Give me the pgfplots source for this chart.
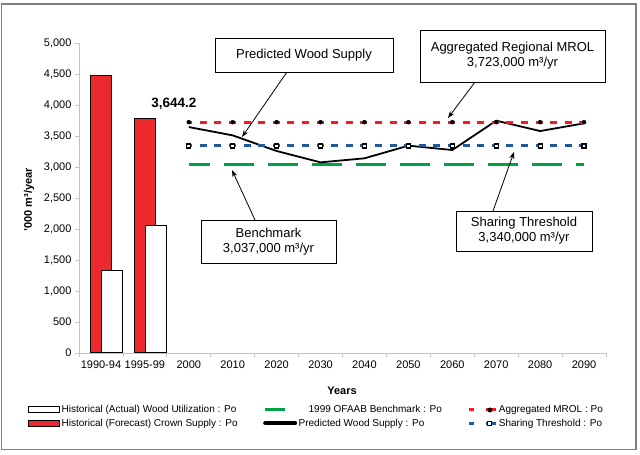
\documentclass[border=0pt]{standalone}
\usepackage{pgfplots}
\pgfplotsset{compat=1.18}
\usepackage{fontspec}
\setmainfont{Liberation Sans}
\usetikzlibrary{arrows.meta}
\definecolor{barred}{RGB}{237,41,46}
\definecolor{mrolred}{RGB}{250,25,35}
\definecolor{shblue}{RGB}{31,91,153}
\definecolor{bmgreen}{RGB}{0,160,70}
\definecolor{axgray}{RGB}{195,195,195}
\definecolor{framegray}{RGB}{128,128,128}

\begin{document}
\begin{tikzpicture}[x=1pt,y=1pt]
\useasboundingbox (0,0) rectangle (640,455);
\draw[framegray, line width=1.2pt] (1.5,5.5) rectangle (636,451);
\begin{axis}[
  at={(79pt,102pt)}, anchor=south west,
  scale only axis, width=527pt, height=310pt,
  xmin=-0.5, xmax=11.5, ymin=0, ymax=5000,
  axis x line*=bottom, axis y line*=left,
  axis line style={axgray, line width=0.8pt, -},
  ytick={0,500,...,5000},
  scaled y ticks=false,
  xtick={-0.5,0.5,...,11.5},
  x tick label as interval,
  xticklabels={1990-94,1995-99,2000,2010,2020,2030,2040,2050,2060,2070,2080,2090},
  tick align=outside,
  major tick length=4pt,
  tick style={axgray, line width=0.8pt},
  ticklabel style={font=\fontsize{11}{13}\selectfont},
  /pgf/number format/assume math mode=true,
  /pgf/number format/1000 sep={,},
  legend columns=3,
  legend style={at={(axis description cs:-0.0968,-0.162)}, anchor=north west,
    draw=none, fill=none, inner sep=0pt,
    font=\fontsize{10}{12}\selectfont,
    cells={anchor=west},
    nodes={inner xsep=1.5pt, inner ysep=2.2pt},
    /tikz/every even column/.append style={column sep=24pt}},
]
% legend entries (row-wise)
\addlegendimage{legend image code/.code={\draw[draw=black, fill=white, line width=1pt] (0pt,-3pt) rectangle (31pt,3pt);}}
\addlegendentry{Historical (Actual) Wood Utilization : Po}
\addlegendimage{color=bmgreen, line width=3pt, legend image code/.code={\draw[draw=bmgreen, line width=3pt] (2pt,0pt) -- (22pt,0pt);}}
\addlegendentry{\hspace{10pt}1999 OFAAB Benchmark : Po}
\addlegendimage{legend image code/.code={\draw[mrolred,line width=3pt] (0pt,0pt)--(5pt,0pt); \draw[mrolred, line width=3pt] (17pt,0pt)--(27pt,0pt); \fill[black] (21pt,0pt) circle (2.2pt);}}
\addlegendentry{Aggregated MROL : Po}
\addlegendimage{legend image code/.code={\draw[draw=black, fill=barred, line width=1pt] (0pt,-3pt) rectangle (31pt,3pt);}}
\addlegendentry{Historical (Forecast) Crown Supply : Po}
\addlegendimage{legend image code/.code={\draw[black, line width=4pt, line cap=round] (2pt,0pt) -- (32pt,0pt);}}
\addlegendentry{Predicted Wood Supply : Po}
\addlegendimage{legend image code/.code={\draw[shblue,line width=3pt] (0pt,0pt)--(5pt,0pt); \draw[shblue, line width=3pt] (17pt,0pt)--(27pt,0pt); \draw[black, fill=white, line width=1.2pt] (19pt,-2pt) rectangle (23pt,2pt);}}
\addlegendentry{Sharing Threshold : Po}

% data
\addplot[ybar, bar width=0.48, bar shift=0pt, fill=barred, draw=black, line width=1pt, forget plot] coordinates {(0,4480) (1,3775)};
\addplot[ybar, bar width=0.48, bar shift=0pt, fill=white, draw=black, line width=1pt, forget plot] coordinates {(0.25,1335) (1.25,2050)};
\addplot[bmgreen, line width=3.3pt, dash pattern=on 30pt off 14pt, dash phase=9pt, forget plot] coordinates {(2,3037) (3,3037) (4,3037) (5,3037) (6,3037) (7,3037) (8,3037) (9,3037) (10,3037) (11,3037)};
\addplot[black, line width=1.8pt, forget plot] coordinates {(2,3644.2) (3,3510) (4,3258) (5,3075) (6,3140) (7,3344) (8,3274) (9,3747) (10,3580) (11,3704)};
\addplot[shblue, line width=3pt, dash pattern=on 7pt off 7.6pt, dash phase=3.5pt, mark=square*, mark size=2pt, mark options={solid, fill=white, draw=black, line width=1.2pt}, forget plot] coordinates {(2,3340) (3,3340) (4,3340) (5,3340) (6,3340) (7,3340) (8,3340) (9,3340) (10,3340) (11,3340)};
\addplot[mrolred, line width=3pt, dash pattern=on 7pt off 7.6pt, dash phase=3.5pt, mark=*, mark size=2pt, mark options={solid, fill=black, draw=black, line width=0.4pt}, forget plot] coordinates {(2,3723) (3,3723) (4,3723) (5,3723) (6,3723) (7,3723) (8,3723) (9,3723) (10,3723) (11,3723)};
\node[font=\bfseries\fontsize{13.5}{15}\selectfont] at (axis cs:2,3644.2) [xshift=-15pt, yshift=23pt] {3,644.2};
\end{axis}
% axis titles
\node[rotate=90, font=\bfseries\fontsize{11}{13}\selectfont] at (29,255) {'000 m³/year};
\node[font=\bfseries\fontsize{11}{13}\selectfont] at (342,64) {Years};
% annotations
\tikzset{ann/.style={draw=black, line width=0.9pt, fill=white, align=center, font=\fontsize{13}{15}\selectfont, inner sep=0pt},
  arr/.style={-{Stealth[length=7pt,width=5pt]}, line width=0.8pt}}
\draw[arr] (287,383) -- (242,318);
\node[ann, minimum width=178pt, minimum height=34pt] at (304,400) {Predicted Wood Supply};
\draw[arr] (475,373) -- (448,337);
\node[ann, minimum width=185pt, minimum height=52pt] at (512.5,399) {Aggregated Regional MROL\\3,723,000 m³/yr};
\draw[arr] (255,235) -- (232,285);
\node[ann, minimum width=135pt, minimum height=43pt] at (268.5,213.5) {Benchmark\\3,037,000 m³/yr};
\draw[arr] (493,244) -- (514,303);
\node[ann, minimum width=136pt, minimum height=40pt] at (524,224) {Sharing Threshold\\3,340,000 m³/yr};
\end{tikzpicture}
\end{document}
